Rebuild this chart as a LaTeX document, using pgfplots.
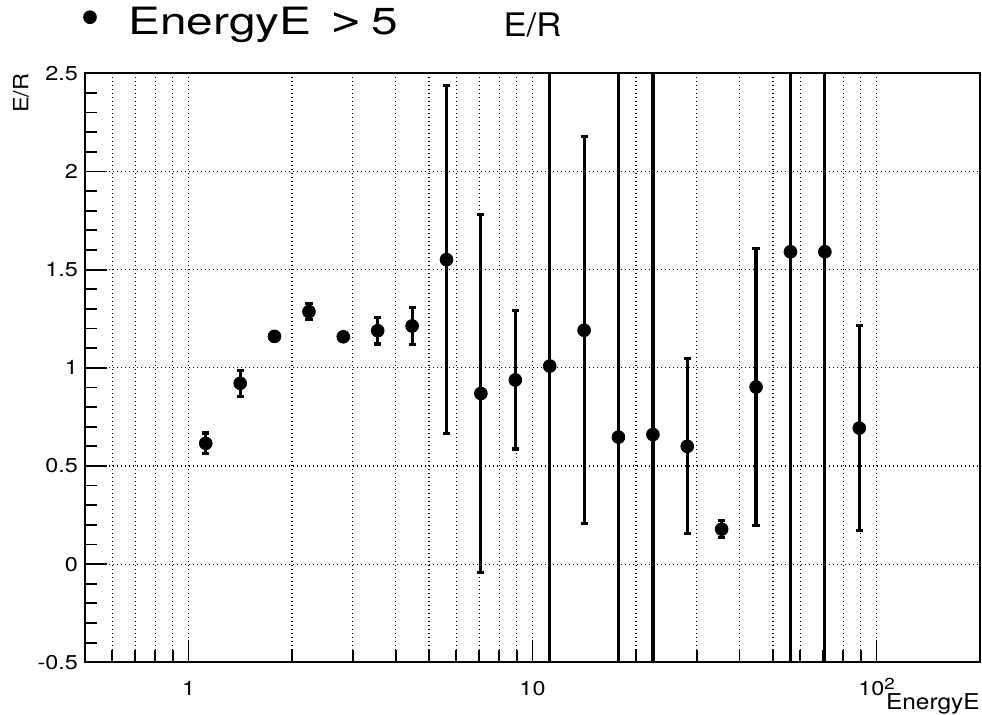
\documentclass[border=0pt]{standalone}
\usepackage{pgfplots}
\pgfplotsset{compat=1.18}
\usepackage{pgfplotstable}
\usepackage{fontspec}
\setmainfont{TeX Gyre Heros}
\newfontfamily\tickfont{TeX Gyre Heros}[FakeStretch=1.17]
\newfontfamily\legfont{TeX Gyre Heros}[FakeStretch=1.27]
\newfontfamily\labfont{TeX Gyre Heros}[FakeStretch=1.12]
\newfontfamily\titfont{TeX Gyre Heros}[FakeStretch=1.07]
\newfontfamily\dejavu{DejaVu Sans}
\pgfplotstableread{
x      y      e
1.122  0.615  0.053
1.413  0.921  0.067
1.778  1.160  0.020
2.239  1.286  0.040
2.818  1.158  0.015
3.548  1.189  0.068
4.467  1.213  0.093
5.623  1.551  0.885
7.079  0.869  0.910
8.913  0.938  0.352
11.22  1.009  3.000
14.13  1.191  0.986
17.78  0.647  3.000
22.39  0.660  3.000
28.18  0.600  0.446
35.48  0.178  0.043
44.67  0.902  0.705
56.23  1.591  3.000
70.79  1.591  3.000
89.13  0.693  0.523
}\datatable
\begin{document}
\begin{tikzpicture}
\path[use as bounding box] (-42.5pt,-25.85pt) rectangle (448.5pt,331.15pt);
\begin{axis}[
  at={(0pt,0pt)}, anchor=south west,
  scale only axis, width=447.5pt, height=294.5pt,
  xmode=log, xmin=0.5, xmax=200, ymin=-0.5, ymax=2.5,
  xtick={1,10,100},
  xticklabels={1,10,10\raisebox{0.6ex}{\fontsize{8}{8}\selectfont 2}},
  minor xtick={0.6,0.7,0.8,0.9,2,3,4,5,6,7,8,9,20,30,40,50,60,70,80,90,200},
  ytick={-0.5,0,0.5,1,1.5,2,2.5},
  yticklabels={-0.5,0,0.5,1,1.5,2,2.5},
  minor y tick num=4,
  xmajorgrids, xminorgrids, ymajorgrids,
  grid style={black, line width=0.6pt, dash pattern=on 0.7pt off 1.3pt},
  major tick length=11pt, minor tick length=6pt,
  tick align=inside, xtick pos=left, ytick pos=left,
  tick style={black, line width=0.9pt},
  minor tick style={black, line width=0.9pt},
  axis line style={line width=1pt},
  ticklabel style={font=\tickfont\fontsize{10}{12}\selectfont},
  xticklabel style={anchor=base, yshift=-16.7pt},
  title={E/R},
  title style={at={(axis description cs:0.5,1)}, anchor=base, yshift=12.3pt, font=\titfont\fontsize{16.2}{18}\selectfont, inner sep=0pt},
  xlabel={EnergyE},
  xlabel style={at={(axis description cs:1,0)}, anchor=base east, yshift=-23.8pt, font=\labfont\fontsize{10.9}{13}\selectfont, inner sep=0pt},
  ylabel={E/R},
  ylabel style={at={(axis description cs:-0.0717,1)}, anchor=east, font=\labfont\fontsize{10.5}{12}\selectfont, inner sep=0pt},
  legend style={at={(axis description cs:0,1)}, anchor=west, xshift=-0.9pt, yshift=25.3pt, draw=none, fill=none, inner sep=0pt, font=\legfont\fontsize{18.8}{22}\selectfont},
  legend cell align=left,
  legend image code/.code={\draw[#1] plot coordinates {(0pt,2.75pt)};},
]
\addplot[black, only marks, mark=*, mark size=3.2pt,
  error bars/.cd, y dir=both, y explicit,
  error bar style={line width=1.6pt},
  error mark options={rotate=90, line width=1.6pt, mark size=1.8pt}]
  table[x=x, y=y, y error=e] {\datatable};
\addlegendentry{\hspace{14pt}EnergyE\hspace{9.6pt}{\dejavu\fontsize{18.8}{22}\selectfont >}\hspace{5pt}5}
\end{axis}
\end{tikzpicture}
\end{document}
